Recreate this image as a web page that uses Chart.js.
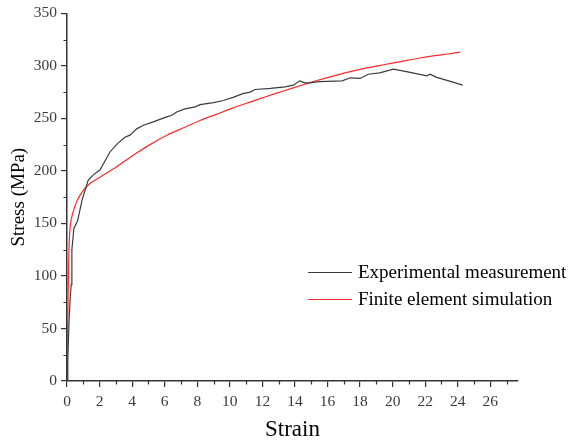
<!DOCTYPE html>
<html>
<head>
<meta charset="utf-8">
<script src="https://cdn.jsdelivr.net/npm/chart.js@4/dist/chart.umd.min.js"></script>
<style>
html,body{margin:0;padding:0;background:#fff;}
#wrap{width:570px;height:441px;position:relative;}
</style>
</head>
<body>
<div id="wrap"><canvas id="c" width="570" height="441"></canvas></div>
<script>
// ---- data ----
const seriesLabels = ["Experimental measurement", "Finite element simulation"];
const expStrain = [0,0.05,0.12,0.2,0.26,0.3,0.42,0.66,0.92,1.3,1.6,2.03,2.64,3.1,3.56,3.87,4.28,4.69,5.3,5.7,6.13,6.43,6.74,7.25,7.87,8.17,9,9.6,10.2,10.8,11.25,11.55,12.5,13.4,13.9,14.3,14.6,14.9,15.5,16.9,17.4,18.0,18.5,19.2,20.05,21,22.1,22.3,22.7,23.5,24.3];
const expStress = [0,20,55,80,92,125,145,153,172,191,196,201,218,226,232,234,240,243.5,246.6,249,251.4,253,256,259,261,263,265,267,270,273.5,275,277.5,278.5,280,281.6,285.7,283.8,283.8,285,285.7,288.6,288,292,293.3,296.9,294,290.5,292,289,285.5,281.6];
const simStrain = [0,0.04,0.08,0.12,0.16,0.22,0.29,0.4,0.63,1.0,1.41,2.03,3.05,4.07,5.1,6.13,7.15,8.17,9.2,10.2,11.25,12.3,13.3,14.3,15.35,16.4,17.4,18.4,19.44,20.5,21.5,22.5,23.5,24.15];
const simStress = [0,48,90,124,140,150,156,162,172,181.5,188,194,204,215,225,234,241,248,254,260,265.5,271,276,281,286,290.5,294.5,298,301,304,307,309.5,311.5,313];
const xMajorTicks = [0,2,4,6,8,10,12,14,16,18,20,22,24,26];
const xMinorTicks = [1,3,5,7,9,11,13,15,17,19,21,23,25,27];
const yMajorTicks = [0,50,100,150,200,250,300,350];
const yMinorTicks = [25,75,125,175,225,275,325];
const xTitle = "Strain";
const yTitle = "Stress (MPa)";

const serif = "'Liberation Serif','Times New Roman',serif";
const axisColor = '#333333';

const minorTicks = {
  id: 'minorTicks',
  afterDraw(chart) {
    const ctx = chart.ctx;
    const xs = chart.scales.x, ys = chart.scales.y;
    ctx.save();
    ctx.strokeStyle = axisColor;
    ctx.lineWidth = 1.2;
    ctx.beginPath();
    xMinorTicks.forEach(v => {
      const px = Math.round(xs.getPixelForValue(v)) + 0.5;
      ctx.moveTo(px, ys.bottom);
      ctx.lineTo(px, ys.bottom + 3.5);
    });
    yMinorTicks.forEach(v => {
      const py = Math.round(ys.getPixelForValue(v)) + 0.5;
      ctx.moveTo(xs.left, py);
      ctx.lineTo(xs.left - 3.5, py);
    });
    ctx.stroke();
    ctx.restore();
  }
};

const legendBox = {
  id: 'legendBox',
  afterDraw(chart) {
    const ctx = chart.ctx;
    const rows = [272, 299];
    ctx.save();
    ctx.font = "19px " + serif;
    ctx.textBaseline = 'middle';
    ctx.textAlign = 'left';
    chart.data.datasets.forEach((ds, i) => {
      const y = rows[i] + 0.5;
      ctx.strokeStyle = ds.borderColor;
      ctx.lineWidth = 1.2;
      ctx.beginPath();
      ctx.moveTo(308, y);
      ctx.lineTo(352, y);
      ctx.stroke();
      ctx.fillStyle = '#000';
      ctx.fillText(ds.label, 358, rows[i] + 1);
    });
    ctx.restore();
  }
};

new Chart(document.getElementById('c'), {
  type: 'scatter',
  data: {
    datasets: [
      {
        label: seriesLabels[0],
        data: expStrain.map((x, i) => ({x, y: expStress[i]})),
        showLine: true,
        borderColor: '#3c3c3c',
        borderWidth: 1.2,
        pointRadius: 0,
        tension: 0
      },
      {
        label: seriesLabels[1],
        data: simStrain.map((x, i) => ({x, y: simStress[i]})),
        showLine: true,
        borderColor: '#ff2a2a',
        borderWidth: 1.2,
        pointRadius: 0,
        tension: 0.2
      }
    ]
  },
  options: {
    responsive: false,
    animation: false,
    layout: { padding: { top: 13, right: 52, left: 0, bottom: 0 } },
    plugins: { legend: { display: false }, tooltip: { enabled: false } },
    scales: {
      x: {
        type: 'linear',
        min: 0,
        max: 27.7,
        afterBuildTicks: s => { s.ticks = xMajorTicks.map(v => ({value: v})); },
        afterFit: s => { s.height = 60; },
        border: { display: true, color: axisColor, width: 1.5 },
        grid: { drawOnChartArea: false, drawTicks: true, tickLength: 6, color: axisColor, lineWidth: 1.2 },
        ticks: { font: { family: serif, size: 15.5 }, color: '#3a3a3a', padding: 6, maxRotation: 0, autoSkip: false },
        title: { display: true, text: xTitle, color: '#000', font: { family: serif, size: 23, lineHeight: 1 }, padding: { top: 0, bottom: 0 } }
      },
      y: {
        type: 'linear',
        min: 0,
        max: 350,
        afterBuildTicks: s => { s.ticks = yMajorTicks.map(v => ({value: v})); },
        afterFit: s => { s.width = 67; },
        border: { display: true, color: axisColor, width: 1.5 },
        grid: { drawOnChartArea: false, drawTicks: true, tickLength: 6, color: axisColor, lineWidth: 1.2 },
        ticks: { font: { family: serif, size: 15.5 }, color: '#3a3a3a', padding: 4, autoSkip: false },
        title: { display: true, text: yTitle, color: '#000', font: { family: serif, size: 19, lineHeight: 1 }, padding: { top: 10, bottom: 0 } }
      }
    }
  },
  plugins: [minorTicks, legendBox]
});
</script>
</body>
</html>
